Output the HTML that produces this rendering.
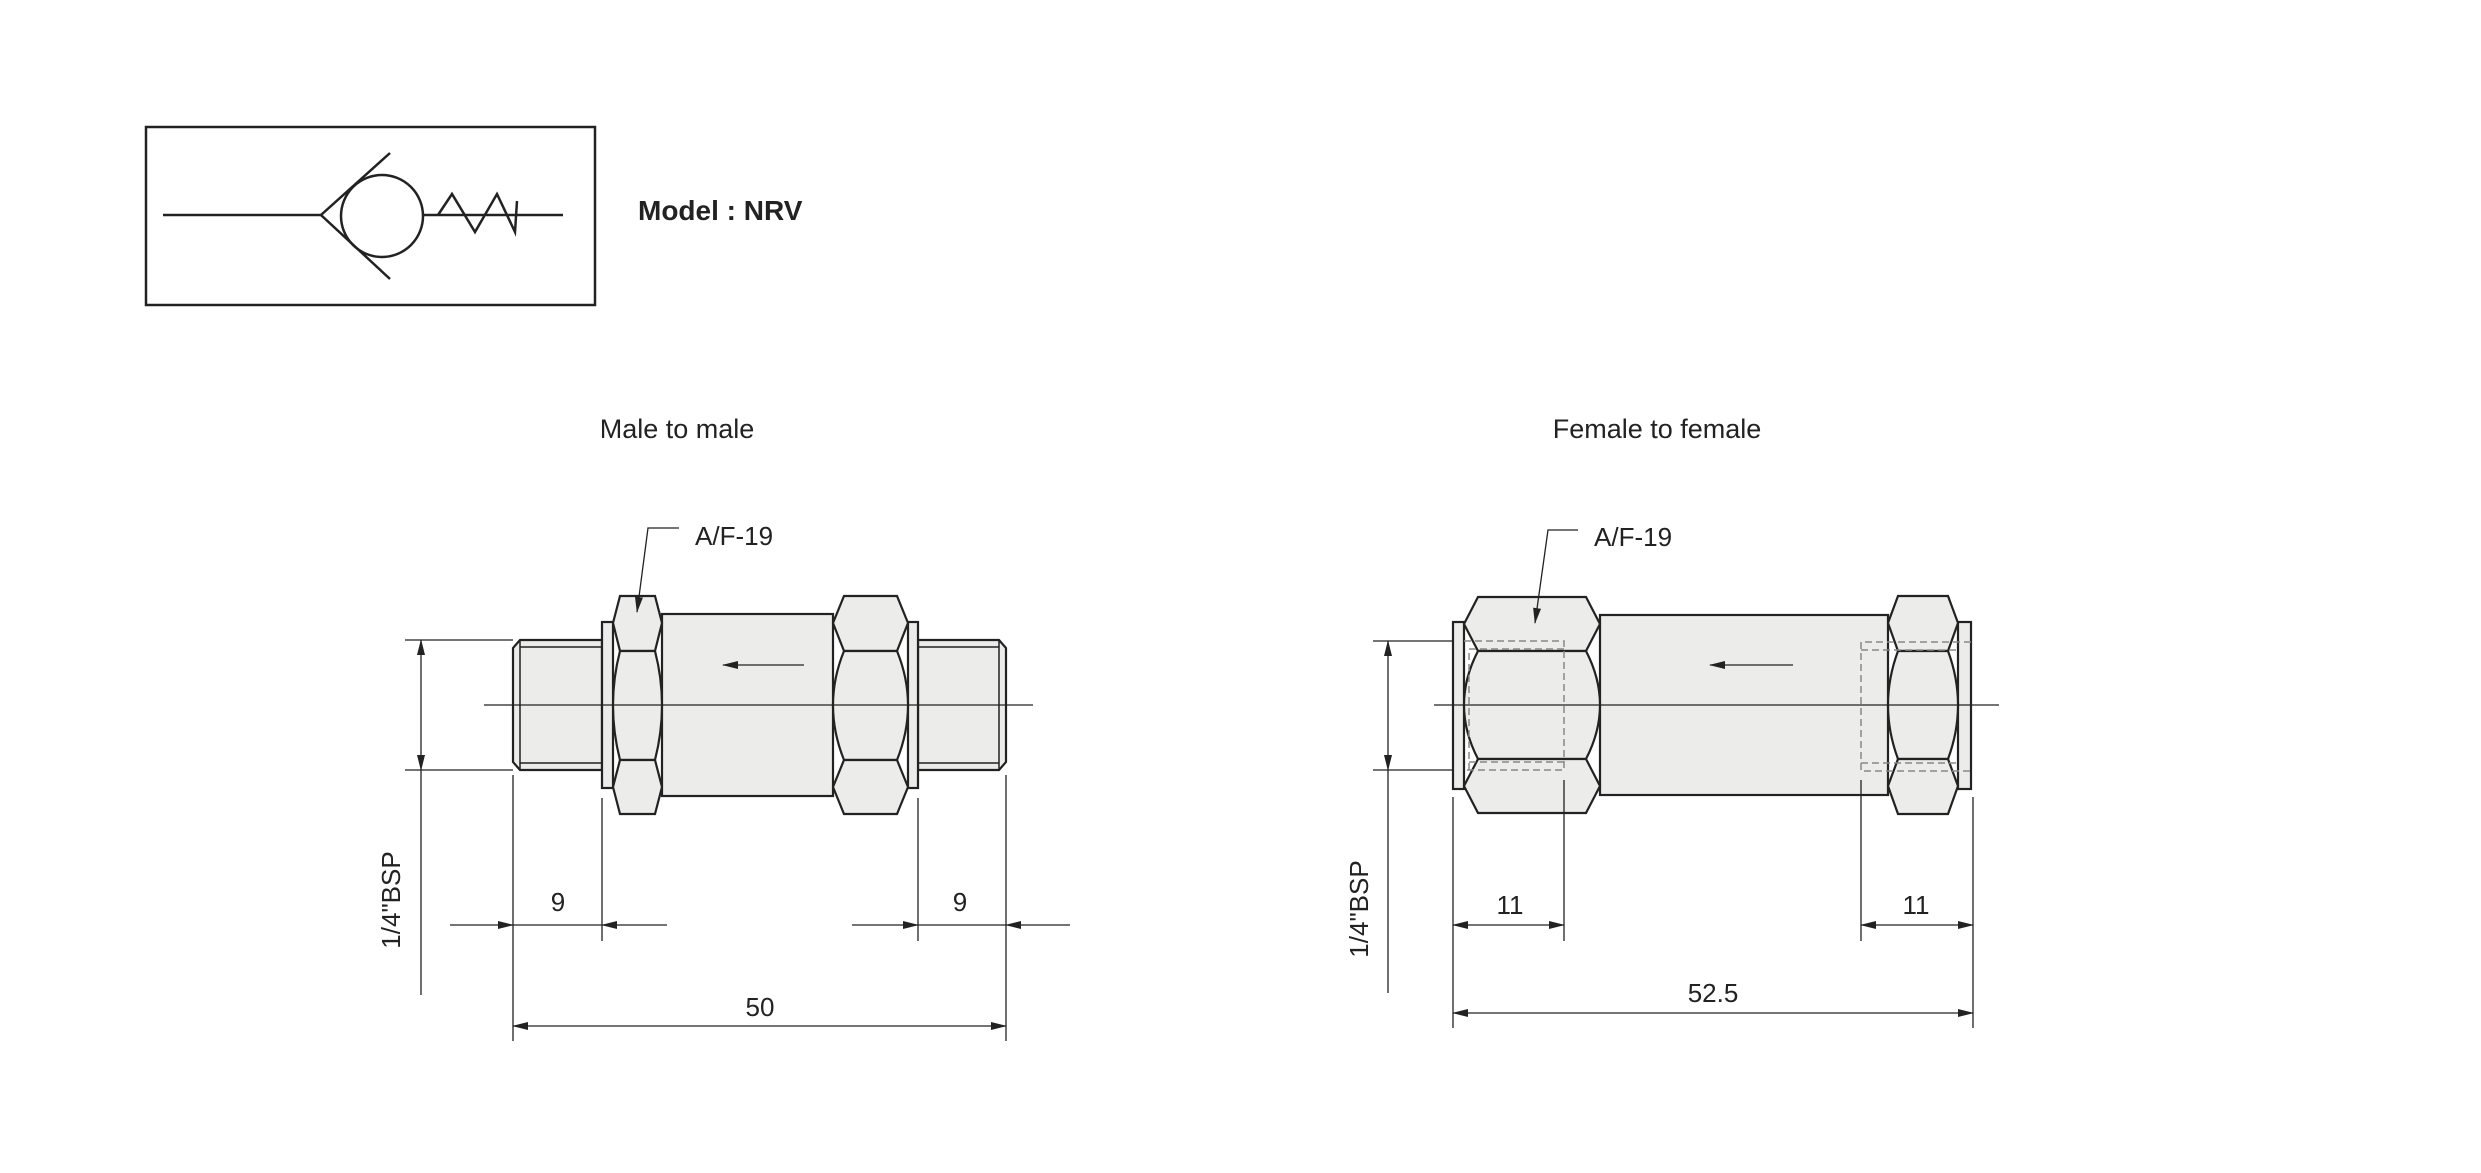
<!DOCTYPE html>
<html><head><meta charset="utf-8"><style>
html,body{margin:0;padding:0;background:#fff}
svg{display:block}
text{font-family:"Liberation Sans",sans-serif;fill:#222}
</style></head><body>
<svg width="2481" height="1173" viewBox="0 0 2481 1173" xmlns="http://www.w3.org/2000/svg">
<defs>
<marker id="a" markerWidth="16" markerHeight="8" refX="15" refY="4" orient="auto" markerUnits="userSpaceOnUse"><path d="M0,0 L16,4 L0,8 Z" fill="#222"/></marker>
</defs>
<!-- symbol -->
<rect x="146" y="127" width="449" height="178" fill="none" stroke="#222" stroke-width="2.5"/>
<g stroke="#222" stroke-width="2.5" fill="none">
<line x1="163" y1="215" x2="321" y2="215"/>
<line x1="423" y1="215" x2="563" y2="215"/>
<polyline points="390,153 321,215 390,279"/>
<ellipse cx="382" cy="216" rx="41" ry="41"/>
<polyline points="438,215 452,194 475,232 497,194 515,232 517,201"/>
</g>
<text x="638" y="220" font-size="28" font-weight="bold">Model : NRV</text>
<text x="677" y="438" font-size="27" text-anchor="middle">Male to male</text>
<text x="1657" y="438" font-size="27" text-anchor="middle">Female to female</text>

<!-- MALE -->
<g stroke="#222" stroke-width="2.2" fill="#ececea">
<path d="M520,640 L602,640 L602,770 L520,770 L513,762 L513,648 Z"/>
<rect x="662" y="614" width="171" height="182"/>
<rect x="602" y="622" width="11" height="166"/>
<path d="M918,640 L999,640 L1006,648 L1006,762 L999,770 L918,770 Z"/>
<rect x="908" y="622" width="10" height="166"/>
<!-- left hex -->
<path d="M620,596 L655,596 L662,623 L655,651 L620,651 L613,623 Z"/>
<path d="M620,651 L655,651 Q669,705 655,760 L620,760 Q606,705 620,651 Z"/>
<path d="M620,760 L655,760 L662,787 L655,814 L620,814 L613,787 Z"/>
<!-- right hex -->
<path d="M844,596 L897,596 L908,623 L897,651 L844,651 L833,623 Z"/>
<path d="M844,651 L897,651 Q919,705 897,760 L844,760 Q822,705 844,651 Z"/>
<path d="M844,760 L897,760 L908,787 L897,814 L844,814 L833,787 Z"/>
</g>
<g stroke="#222" stroke-width="1.5" fill="none">
<line x1="520" y1="647" x2="602" y2="647"/><line x1="520" y1="763" x2="602" y2="763"/>
<line x1="520" y1="640" x2="520" y2="770"/>
<line x1="918" y1="647" x2="999" y2="647"/><line x1="918" y1="763" x2="999" y2="763"/>
<line x1="999" y1="640" x2="999" y2="770"/>
</g>
<g stroke="#222" stroke-width="1.3" fill="none">
<line x1="484" y1="705" x2="1033" y2="705"/>
<line x1="804" y1="665" x2="723" y2="665" marker-end="url(#a)"/>
<polyline points="679,528 648,528 637,612" marker-end="url(#a)"/>
<line x1="405" y1="640" x2="513" y2="640"/><line x1="405" y1="770" x2="513" y2="770"/>
<line x1="421" y1="705" x2="421" y2="640" marker-end="url(#a)"/>
<line x1="421" y1="705" x2="421" y2="770" marker-end="url(#a)"/>
<line x1="421" y1="770" x2="421" y2="995"/>
<line x1="513" y1="775" x2="513" y2="1041"/><line x1="1006" y1="775" x2="1006" y2="1041"/>
<line x1="602" y1="798" x2="602" y2="941"/><line x1="918" y1="798" x2="918" y2="941"/>
<line x1="450" y1="925" x2="513" y2="925" marker-end="url(#a)"/>
<line x1="513" y1="925" x2="602" y2="925"/>
<line x1="667" y1="925" x2="602" y2="925" marker-end="url(#a)"/>
<line x1="852" y1="925" x2="918" y2="925" marker-end="url(#a)"/>
<line x1="918" y1="925" x2="1006" y2="925"/>
<line x1="1070" y1="925" x2="1006" y2="925" marker-end="url(#a)"/>
<line x1="760" y1="1026" x2="513" y2="1026" marker-end="url(#a)"/>
<line x1="760" y1="1026" x2="1006" y2="1026" marker-end="url(#a)"/>
</g>
<text x="695" y="545" font-size="26">A/F-19</text>
<text x="558" y="911" font-size="26" text-anchor="middle">9</text>
<text x="960" y="911" font-size="26" text-anchor="middle">9</text>
<text x="760" y="1016" font-size="26" text-anchor="middle">50</text>
<text transform="translate(400,900) rotate(-90)" font-size="26" text-anchor="middle">1/4"BSP</text>

<!-- FEMALE -->
<g stroke="#222" stroke-width="2.2" fill="#ececea">
<rect x="1600" y="615" width="288" height="180"/>
<rect x="1453" y="622" width="11" height="167"/>
<rect x="1958" y="622" width="13" height="167"/>
<path d="M1478,597 L1586,597 L1600,624 L1586,651 L1478,651 L1464,624 Z"/>
<path d="M1478,651 L1586,651 Q1614,705 1586,759 L1478,759 Q1450,705 1478,651 Z"/>
<path d="M1478,759 L1586,759 L1600,786 L1586,813 L1478,813 L1464,786 Z"/>
<path d="M1898,596 L1948,596 L1958,623 L1948,651 L1898,651 L1888,623 Z"/>
<path d="M1898,651 L1948,651 Q1968,705 1948,759 L1898,759 Q1878,705 1898,651 Z"/>
<path d="M1898,759 L1948,759 L1958,786 L1948,814 L1898,814 L1888,786 Z"/>
</g>
<g stroke="#888" stroke-width="1.5" fill="none" stroke-dasharray="7,4">
<polyline points="1464,641 1564,641 1564,770 1464,770"/>
<polyline points="1469,770 1469,649 1564,649"/>
<line x1="1469" y1="762" x2="1564" y2="762"/>
<polyline points="1971,642 1861,642 1861,771 1971,771"/>
<line x1="1861" y1="650" x2="1958" y2="650"/>
<line x1="1861" y1="763" x2="1958" y2="763"/>
</g>
<g stroke="#222" stroke-width="1.3" fill="none">
<line x1="1434" y1="705" x2="1999" y2="705"/>
<line x1="1793" y1="665" x2="1710" y2="665" marker-end="url(#a)"/>
<polyline points="1578,530 1548,530 1535,623" marker-end="url(#a)"/>
<line x1="1373" y1="641" x2="1453" y2="641"/><line x1="1373" y1="770" x2="1453" y2="770"/>
<line x1="1388" y1="705" x2="1388" y2="641" marker-end="url(#a)"/>
<line x1="1388" y1="705" x2="1388" y2="770" marker-end="url(#a)"/>
<line x1="1388" y1="770" x2="1388" y2="993"/>
<line x1="1453" y1="797" x2="1453" y2="1028"/><line x1="1973" y1="797" x2="1973" y2="1028"/>
<line x1="1564" y1="780" x2="1564" y2="941"/><line x1="1861" y1="780" x2="1861" y2="941"/>
<line x1="1508" y1="925" x2="1453" y2="925" marker-end="url(#a)"/>
<line x1="1508" y1="925" x2="1564" y2="925" marker-end="url(#a)"/>
<line x1="1917" y1="925" x2="1861" y2="925" marker-end="url(#a)"/>
<line x1="1917" y1="925" x2="1973" y2="925" marker-end="url(#a)"/>
<line x1="1713" y1="1013" x2="1453" y2="1013" marker-end="url(#a)"/>
<line x1="1713" y1="1013" x2="1973" y2="1013" marker-end="url(#a)"/>
</g>
<text x="1594" y="546" font-size="26">A/F-19</text>
<text x="1510" y="914" font-size="26" text-anchor="middle">11</text>
<text x="1916" y="914" font-size="26" text-anchor="middle">11</text>
<text x="1713" y="1002" font-size="26" text-anchor="middle">52.5</text>
<text transform="translate(1368,909) rotate(-90)" font-size="26" text-anchor="middle">1/4"BSP</text>
</svg>
</body></html>
